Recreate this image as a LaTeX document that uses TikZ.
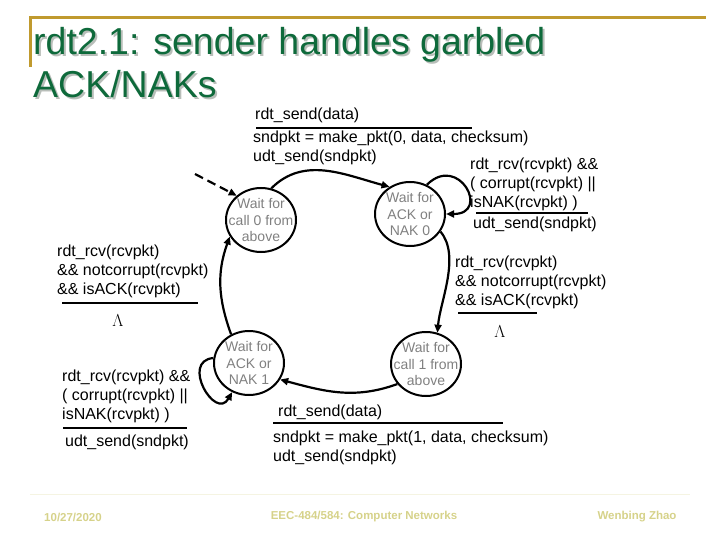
\documentclass[tikz,border=0pt]{standalone}
\usepackage[no-math]{fontspec}
\setmainfont{Liberation Sans}
\usepackage{tikz}
\usetikzlibrary{arrows.meta,shapes.geometric}

\begin{document}
\begin{tikzpicture}[x=1pt,y=-1pt,
  state/.style={ellipse,draw=black,line width=2pt,minimum width=70pt,minimum height=64pt,
    inner xsep=-8pt,inner ysep=-1pt,align=center,text=stategray,font=\fontsize{14}{16.5}\selectfont},
  trans/.style={line width=2.2pt,-{Triangle[length=8pt,width=7pt]}},
  lbl/.style={anchor=north west,inner sep=0pt,align=left,font=\fontsize{16}{19}\selectfont},
  bar/.style={line width=2.5pt}]
\definecolor{titlegreen}{HTML}{0E6A3B}
\definecolor{titleshadow}{HTML}{B8BEB9}
\definecolor{gold}{HTML}{C09A2E}
\definecolor{footer}{HTML}{D6D28A}
\definecolor{stategray}{HTML}{808080}
\useasboundingbox (0,0) rectangle (720,540);

% title bar
\draw[gold,line width=3pt] (30,67) -- (30,18) -- (706,18);
\node[anchor=base west,inner sep=0pt,font=\fontsize{37.5}{45}\selectfont,text=titleshadow] (title1s) at (35,57) {rdt2.1: sender handles garbled};
\node[anchor=base west,inner sep=0pt,font=\fontsize{37.5}{45}\selectfont,text=titlegreen] (title1) at (33,55) {rdt2.1: sender handles garbled};
\node[anchor=base west,inner sep=0pt,font=\fontsize{37.5}{45}\selectfont,text=titleshadow] (title2s) at (35,100) {ACK/NAKs};
\node[anchor=base west,inner sep=0pt,font=\fontsize{37.5}{45}\selectfont,text=titlegreen] (title2) at (33,98) {ACK/NAKs};

% states
\node[state] (s0) at (261,220) {Wait for\\call 0 from\\above};
\node[state] (s1) at (410,214) {Wait for\\ACK or\\NAK 0};
\node[state] (s2) at (249,363) {Wait for\\ACK or\\NAK 1};
\node[state] (s3) at (426,364) {Wait for\\call 1 from\\above};

% transitions
\coordinate (init) at (195,174);
\draw[trans,dash pattern=on 9pt off 5pt] (init) -- (s0.135);
\draw[trans] (s0.72) to[out=45,in=165] (s1.127);
\draw[trans] (s1.60) to[out=45,in=0,looseness=3.3] (s1.0);
\draw[trans] (s1.-30) to[out=-50,in=85,looseness=0.8] (s3.70);
\draw[trans] (s3.215) to[out=200,in=-15] (s2.-28);
\draw[trans] (s2.172) to[out=185,in=240,looseness=2.2] (s2.240);
\draw[trans] (s2.122) to[out=110,in=250] (s0.208);

% events and actions
\node[lbl] (ev0) at (255,108) {rdt\_send(data)};
\node[lbl] (act0) at (253,131) {sndpkt = make\_pkt(0, data, checksum)\\udt\_send(sndpkt)};
\node[lbl] (ev1) at (470,158) {rdt\_rcv(rcvpkt) \&\&\\( corrupt(rcvpkt) ||\\isNAK(rcvpkt) )};
\node[lbl] (act1) at (473,217) {udt\_send(sndpkt)};
\node[lbl] (ev2) at (455,256) {rdt\_rcv(rcvpkt)\\\&\& notcorrupt(rcvpkt)\\\&\& isACK(rcvpkt)};
\node[anchor=base,inner sep=0pt,font=\fontsize{16}{19}\selectfont] (act2) at (500,337) {$\Lambda$};
\node[lbl] (ev3) at (57,245) {rdt\_rcv(rcvpkt)\\\&\& notcorrupt(rcvpkt)\\\&\& isACK(rcvpkt)};
\node[anchor=base,inner sep=0pt,font=\fontsize{16}{19}\selectfont] (act3) at (118,326) {$\Lambda$};
\node[lbl] (ev4) at (62,370) {rdt\_rcv(rcvpkt) \&\&\\( corrupt(rcvpkt) ||\\isNAK(rcvpkt) )};
\node[lbl] (act4) at (65,435) {udt\_send(sndpkt)};
\node[lbl] (ev5) at (278,405) {rdt\_send(data)};
\node[lbl] (act5) at (273,431) {sndpkt = make\_pkt(1, data, checksum)\\udt\_send(sndpkt)};

% bars between event and action
\foreach \xa/\xb/\y in {256/472/128,476/588/213,458/537/313,62/198/303,63/187/428,273/503/423} {
  \draw[bar] (\xa,\y) -- (\xb,\y);
}

% footer
\draw[footer!25,line width=0.6pt] (30,494) -- (690,494);
\node[inner sep=0pt,font=\fontsize{11.5}{13}\selectfont\bfseries,text=footer] (date) at (73,517) {10/27/2020};
\node[inner sep=0pt,font=\fontsize{11.5}{13}\selectfont\bfseries,text=footer] (course) at (364,517) {EEC-484/584: Computer Networks};
\node[inner sep=0pt,font=\fontsize{11.5}{13}\selectfont\bfseries,text=footer] (author) at (637,517) {Wenbing Zhao};
\end{tikzpicture}
\end{document}
